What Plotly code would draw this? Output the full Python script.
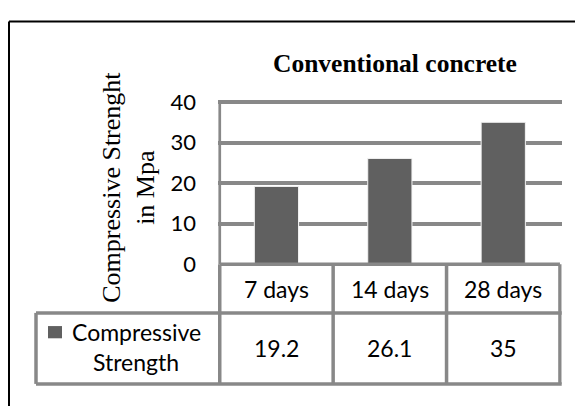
import plotly.graph_objects as go

# ---- data ----
days = ["7 days", "14 days", "28 days"]
strength = [19.2, 26.1, 35]
series_name = "Compressive Strength"
y_ticks = [0, 10, 20, 30, 40]
chart_title = "Conventional concrete"
y_title = "Compressive Strenght<br>in Mpa"

# ---- page geometry (pixels) ----
W, H = 575, 419


def px_x(x):
    return x / W


def px_y(y):
    return 1 - y / H


PLOT_L, PLOT_R = 218, 561.7
Y_TOP_TICK, PLOT_B = 95.7, 268.3   # pixel rows of the 40 and 0 gridlines
Y_MAX = 40.5                       # a little headroom so the 40 gridline is kept
PX_PER_UNIT = (PLOT_B - Y_TOP_TICK) / 40
PLOT_T = PLOT_B - Y_MAX * PX_PER_UNIT
ROW1_B = 320          # bottom of the category row
ROW2_B = 395.5        # bottom of the value row
LEG_L = 36            # left edge of the series-name cell

BAR = "#606060"
GRID = "#888888"
SANS = "Lato, 'Open Sans', sans-serif"
SERIF = "'Liberation Serif', 'Times New Roman', serif"

fig = go.Figure(
    go.Bar(
        x=days,
        y=strength,
        name=series_name,
        width=0.39,
        marker=dict(color=BAR, line=dict(color="#f4f4f4", width=1)),
        showlegend=False,
        hoverinfo="x+y",
    )
)

shapes = []
line = dict(color=GRID, width=3.5)

# data-table: vertical rules at the category boundaries
n = len(days)
for k in range(n + 1):
    shapes.append(dict(type="line", xref="x", yref="paper",
                       x0=k - 0.5, x1=k - 0.5,
                       y0=px_y(PLOT_B), y1=px_y(ROW2_B), line=line))
# left edge of the series-name cell
shapes.append(dict(type="line", xref="paper", yref="paper",
                   x0=px_x(LEG_L), x1=px_x(LEG_L),
                   y0=px_y(ROW1_B), y1=px_y(ROW2_B), line=line))
# horizontal rules
shapes.append(dict(type="line", xref="x", yref="paper",
                   x0=-0.5, x1=n - 0.5, y0=px_y(PLOT_B), y1=px_y(PLOT_B), line=line))
for yy in (ROW1_B, ROW2_B):
    shapes.append(dict(type="line", xref="paper", yref="paper",
                       x0=px_x(LEG_L), x1=px_x(PLOT_R),
                       y0=px_y(yy), y1=px_y(yy), line=line))
# legend key
shapes.append(dict(type="rect", xref="paper", yref="paper",
                   x0=px_x(48), x1=px_x(62), y0=px_y(347), y1=px_y(334),
                   fillcolor=BAR, line=dict(width=0)))
# outer chart frame (top and left edges)
frame = dict(color="black", width=2)
shapes.append(dict(type="line", xref="paper", yref="paper",
                   x0=px_x(9), x1=1, y0=px_y(10), y1=px_y(10), line=frame))
shapes.append(dict(type="line", xref="paper", yref="paper",
                   x0=px_x(9), x1=px_x(9), y0=px_y(10), y1=0, line=frame))

annotations = []
cell_font = dict(family=SANS, size=23, color="black")
row1_mid = px_y((PLOT_B + ROW1_B) / 2)
row2_mid = px_y((ROW1_B + ROW2_B) / 2)
for d, v in zip(days, strength):
    annotations.append(dict(x=d, xref="x", y=row1_mid, yref="paper",
                            text=d, showarrow=False, font=cell_font,
                            xanchor="center", yanchor="middle"))
    annotations.append(dict(x=d, xref="x", y=row2_mid, yref="paper",
                            text=f"{v:g}", showarrow=False, font=cell_font,
                            xanchor="center", yanchor="middle"))

# series name, wrapped over two lines
name_lines = series_name.split(" ")
for txt, cx, cy in zip(name_lines, (136.5, 135.5), (340, 372)):
    annotations.append(dict(x=px_x(cx), xref="paper", y=px_y(cy), yref="paper",
                            text=txt, showarrow=False, font=cell_font,
                            xanchor="center", yanchor="middle"))

# chart title
annotations.append(dict(x=px_x(395), xref="paper", y=px_y(55), yref="paper",
                        text=f"<b>{chart_title}</b>", showarrow=False,
                        font=dict(family=SERIF, size=25.5, color="black"),
                        xanchor="center", yanchor="middle"))
# value-axis title
annotations.append(dict(x=px_x(129), xref="paper", y=px_y(187), yref="paper",
                        text=y_title, showarrow=False, textangle=-90,
                        font=dict(family=SERIF, size=26, color="black"),
                        xanchor="center", yanchor="middle"))

fig.update_layout(
    width=W, height=H, autosize=False,
    margin=dict(l=0, r=0, t=0, b=0),
    paper_bgcolor="white", plot_bgcolor="white",
    xaxis=dict(domain=[px_x(PLOT_L), px_x(PLOT_R)], showticklabels=False,
               showgrid=False, zeroline=False, showline=False, ticks=""),
    yaxis=dict(domain=[px_y(PLOT_B), px_y(PLOT_T)], range=[0, Y_MAX],
               tickvals=y_ticks, showgrid=True, gridcolor=GRID, gridwidth=3.5,
               zeroline=False, showline=False, ticks="", ticklabelstandoff=21,
               tickfont=dict(family=SANS, size=22, color="black")),
    shapes=shapes,
    annotations=annotations,
)
# y-axis rule from 0 up to the 40 gridline
fig.add_shape(type="line", xref="x", yref="y", x0=-0.5, x1=-0.5, y0=0, y1=y_ticks[-1],
              line=dict(color=GRID, width=2.7))

fig.write_html("out.html")
